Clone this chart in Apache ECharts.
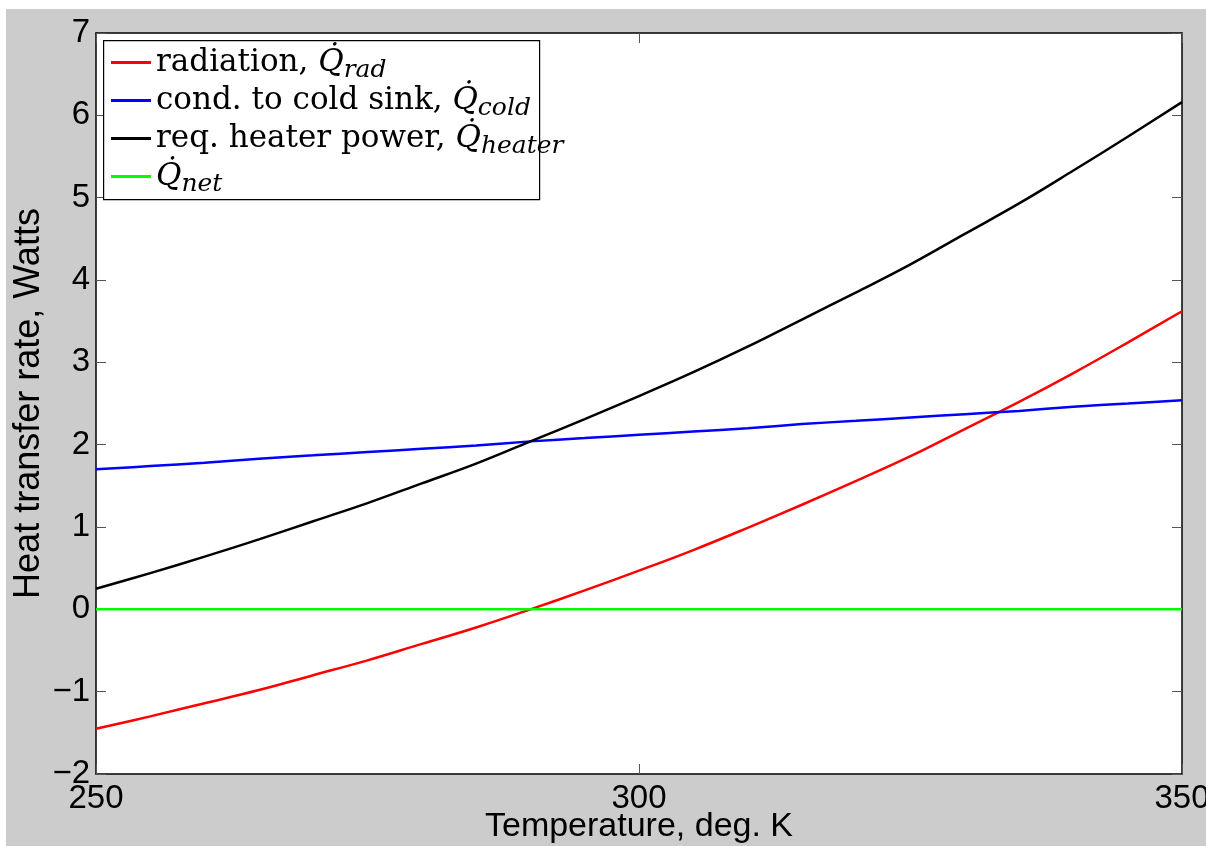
<!DOCTYPE html>
<html>
<head>
<meta charset="utf-8">
<script src="https://cdn.jsdelivr.net/npm/echarts@6/dist/echarts.min.js"></script>
<style>
  html, body { margin: 0; padding: 0; background: #fff; }
  #chart { position: absolute; left: 6px; top: 9px; width: 1200px; height: 837px; background: #cccccc; }
</style>
</head>
<body>
<div id="chart"></div>
<script>
// temperature, K
const temps = [250, 255, 260, 265, 270, 275, 280, 285, 290, 295, 300,
               305, 310, 315, 320, 325, 330, 335, 340, 345, 350];

// heat transfer rates, W
const qRad = [-1.45, -1.30, -1.14, -0.98, -0.80, -0.62, -0.42, -0.22, 0.00, 0.23, 0.47,
              0.72, 0.99, 1.27, 1.56, 1.86, 2.19, 2.52, 2.87, 3.24, 3.62];
const qCold = [1.70, 1.74, 1.78, 1.83, 1.87, 1.91, 1.95, 1.99, 2.04, 2.08, 2.12,
               2.16, 2.20, 2.25, 2.29, 2.33, 2.37, 2.41, 2.46, 2.50, 2.54];
const qHeater = [0.25, 0.44, 0.64, 0.85, 1.07, 1.29, 1.53, 1.77, 2.04, 2.31, 2.59,
                 2.88, 3.19, 3.52, 3.85, 4.19, 4.56, 4.93, 5.33, 5.74, 6.16];
const qNet = [0, 0, 0, 0, 0, 0, 0, 0, 0, 0, 0,
              0, 0, 0, 0, 0, 0, 0, 0, 0, 0];

const seriesNames = ['rad', 'cold', 'heater', 'net'];
const legendText = {
    rad: '{t|radiation, }{q|Q\u0307}{s|rad}',
    cold: '{t|cond. to cold sink, }{q|Q\u0307}{s|cold}',
    heater: '{t|req. heater power, }{q|Q\u0307}{s|heater}',
    net: '{q|Q\u0307}{s|net}'
};

const pair = ys => temps.map((t, i) => [t, ys[i]]);

const chart = echarts.init(document.getElementById('chart'));

const sansFont = "'Liberation Sans', Arial, sans-serif";
const serifFont = "'DejaVu Serif', 'Liberation Serif', serif";

const tickStyle = { show: true, inside: true, length: 10, lineStyle: { color: '#555', width: 1 } };
const lineAxis = { show: true, onZero: false, lineStyle: { color: '#000', width: 1.5 } };

const mkSeries = (name, ys, color) => ({
    name: name,
    type: 'line',
    data: pair(ys),
    symbol: 'none',
    smooth: 0.4,
    lineStyle: { color: color, width: 2.5 },
    itemStyle: { color: color },
    z: 3
});

chart.setOption({
    animation: false,
    backgroundColor: '#cccccc',
    grid: {
        left: 90, top: 24, right: 24, bottom: 72,
        outerBoundsMode: 'none',
        containLabel: false,
        show: true, backgroundColor: '#ffffff', borderWidth: 0
    },
    xAxis: [{
        type: 'value', min: 250, max: 350, interval: 50,
        name: 'Temperature, deg. K', nameLocation: 'middle', nameGap: 36,
        nameMoveOverlap: false,
        nameTextStyle: { fontFamily: sansFont, fontSize: 34, color: '#000' },
        axisLine: lineAxis, axisTick: tickStyle,
        axisLabel: { fontFamily: sansFont, fontSize: 33, color: '#000', margin: 8 },
        splitLine: { show: false }
    }, {
        type: 'value', min: 250, max: 350, interval: 50, position: 'top',
        axisLine: lineAxis, axisTick: tickStyle,
        axisLabel: { show: false }, splitLine: { show: false }
    }],
    yAxis: [{
        type: 'value', min: -2, max: 7, interval: 1,
        name: 'Heat transfer rate, Watts', nameLocation: 'middle', nameGap: 49,
        nameMoveOverlap: false,
        nameTextStyle: { fontFamily: sansFont, fontSize: 36, color: '#000' },
        axisLine: lineAxis, axisTick: tickStyle,
        axisLabel: {
            fontFamily: sansFont, fontSize: 33, color: '#000', margin: 6,
            formatter: v => (v < 0 ? '\u2212' + Math.abs(v) : String(v))
        },
        splitLine: { show: false }
    }, {
        type: 'value', min: -2, max: 7, interval: 1, position: 'right',
        axisLine: lineAxis, axisTick: tickStyle,
        axisLabel: { show: false }, splitLine: { show: false }
    }],
    graphic: [{
        type: 'rect',
        left: 97, top: 31, z: 50,
        shape: { width: 436, height: 159 },
        style: { fill: '#ffffff', stroke: '#000', lineWidth: 1.2 }
    }],
    legend: {
        orient: 'vertical',
        left: 105, top: 38,
        padding: 0,
        itemGap: 2,
        itemWidth: 40, itemHeight: 3,
        icon: 'rect',
        z: 60,
        data: seriesNames,
        formatter: name => legendText[name],
        textStyle: {
            color: '#000',
            lineHeight: 30,
            rich: {
                t: { fontFamily: serifFont, fontSize: 31, color: '#000', lineHeight: 30, height: 30 },
                q: { fontFamily: serifFont, fontStyle: 'italic', fontSize: 31, color: '#000', lineHeight: 30, height: 30 },
                s: { fontFamily: serifFont, fontStyle: 'italic', fontSize: 25, color: '#000', lineHeight: 14, height: 14, padding: [16, 0, 0, 0] }
            }
        }
    },
    series: [
        mkSeries('rad', qRad, '#ff0000'),
        mkSeries('cold', qCold, '#0000ff'),
        mkSeries('heater', qHeater, '#000000'),
        mkSeries('net', qNet, '#00ff00')
    ]
});
</script>
</body>
</html>
